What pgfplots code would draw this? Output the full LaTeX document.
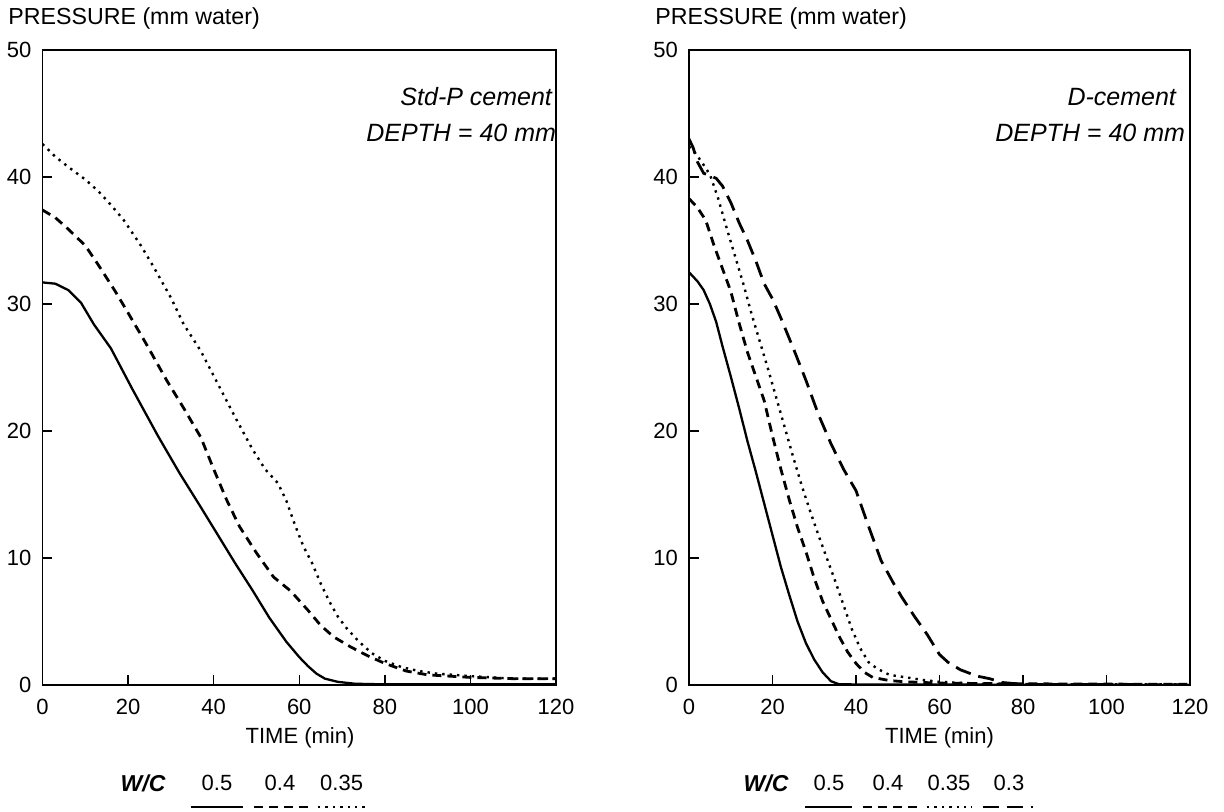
\documentclass[border=0pt]{standalone}
\usepackage{fontspec}
\setmainfont{Liberation Sans}
\usepackage{pgfplots}
\pgfplotsset{compat=1.18}

\tikzset{
  sA/.style={black, line width=1.15pt},
  sB/.style={black, line width=1.4pt, dash pattern=on 4.5pt off 3pt},
  sC/.style={black, line width=1.2pt, dash pattern=on 1.2pt off 2.5pt},
  sD/.style={black, line width=1.4pt, dash pattern=on 8pt off 4pt},
}
\pgfplotsset{
  base/.style={
    scale only axis, height=317.5pt,
    xmin=0, xmax=120, ymin=0, ymax=50,
    xtick={0,20,...,120}, ytick={0,10,...,50},
    tick align=inside, xtick pos=bottom, ytick pos=left,
    major tick length=5pt,
    axis line style={line width=0.9pt},
    every tick/.style={line width=0.7pt, black},
    tick label style={font=\fontsize{11}{13}\selectfont},
    xticklabel style={yshift=-3.5pt},
    yticklabel style={xshift=-2pt},
    /pgf/number format/assume math mode=true,
  },
}

\begin{document}
\begin{tikzpicture}[font=\fontsize{11}{13}\selectfont]

\begin{axis}[base, width=256.75pt, at={(21.25pt,63pt)}, anchor=south west]
\addplot[sA] coordinates {(0,31.7) (3,31.6) (6,31.1) (9,30.1) (12,28.4) (16,26.5) (21,23.3) (27,19.6) (32,16.7) (37,14.0) (41,11.8) (45,9.6) (49,7.5) (53,5.3) (57,3.4) (60,2.2) (62,1.5) (64,0.9) (66,0.5) (69,0.25) (73,0.1) (80,0.05) (90,0.05) (100,0.05) (120,0.05)};
\addplot[sB] coordinates {(0,37.4) (3,36.8) (6,35.9) (10,34.6) (13,33.1) (17,31.0) (20,29.3) (24,27.0) (29,24.0) (33,21.8) (37,19.5) (40,17.0) (43,14.6) (46,12.5) (50,10.4) (54,8.5) (58,7.4) (62,5.9) (65,4.7) (68,3.8) (72,3.0) (76,2.3) (80,1.7) (85,1.1) (90,0.8) (100,0.6) (110,0.5) (120,0.5)};
\addplot[sC] coordinates {(0,42.6) (3,41.6) (6,40.8) (10,39.8) (13,38.9) (16,37.8) (19,36.6) (23,34.6) (26,32.9) (30,30.5) (33,28.4) (37,26.3) (41,23.7) (45,21.1) (49,18.6) (52,17.0) (55,15.9) (57,14.5) (59,12.6) (61,10.9) (63,9.6) (65,8.0) (67,6.6) (69,5.4) (71,4.5) (74,3.4) (77,2.5) (80,1.9) (84,1.4) (88,1.1) (92,0.9) (100,0.7) (110,0.5) (120,0.5)};
\end{axis}

\begin{axis}[base, width=250.5pt, at={(344.5pt,63pt)}, anchor=south west]
\addplot[sA] coordinates {(0,32.5) (2,31.8) (3.5,31.1) (5,30.0) (6.5,28.6) (8,26.7) (10,24.3) (12,21.8) (14,19.2) (16,16.8) (18,14.3) (20,11.8) (22,9.3) (24,7.1) (26,5.0) (28,3.3) (30,2.0) (32,1.0) (34,0.3) (36,0.05) (120,0.0)};
\addplot[sB] coordinates {(0,38.3) (2,37.6) (4,36.6) (6,34.6) (8,32.8) (10,31.0) (12,28.5) (14,26.2) (16,24.3) (18,22.4) (20,19.6) (22,17.0) (24,14.6) (26,12.4) (28,10.5) (30,8.4) (32,6.6) (34,5.2) (36,3.8) (38,2.6) (40,1.7) (42,1.0) (44,0.6) (48,0.35) (52,0.25) (60,0.15) (75,0.1) (120,0.05)};
\addplot[sC] coordinates {(0,42.4) (1,42.1) (3,41.2) (5,40.2) (7,38.3) (9,36.0) (11,33.8) (13,31.6) (15,29.2) (17,27.0) (19,24.8) (21,22.5) (23,20.2) (25,17.9) (27,15.7) (29,13.7) (31,11.8) (33,10.0) (35,8.2) (37,6.3) (39,4.4) (41,2.9) (43,1.8) (45,1.3) (48,0.8) (52,0.6) (56,0.4) (60,0.25) (70,0.1) (80,0.05) (120,0.05)};
\addplot[sD] coordinates {(0,43.0) (1,42.3) (2,41.2) (3.5,40.3) (5,40.1) (6.5,39.9) (8,39.3) (10,38.0) (12,36.4) (14,35.0) (16,33.4) (18,31.6) (20,30.4) (22,28.9) (25,26.5) (28,24.0) (31,21.3) (34,19.0) (37,17.0) (40,15.3) (43,12.5) (46,9.8) (49,8.0) (51,6.9) (54,5.4) (57,4.0) (60,2.4) (62,1.8) (65,1.2) (69,0.7) (72,0.5) (75,0.2) (80,0.05) (120,0.02)};
\end{axis}

% axis titles
\node[anchor=west, font=\fontsize{11.6}{13}\selectfont] at (0.7pt,396.5pt) {PRESSURE (mm water)};
\node[anchor=west, font=\fontsize{11.6}{13}\selectfont] at (324.2pt,396.5pt) {PRESSURE (mm water)};
\node at (150pt,36.5pt) {TIME (min)};
\node at (469.75pt,36.5pt) {TIME (min)};

% annotations
\node[anchor=east, font=\fontsize{12.5}{14}\selectfont\itshape] at (279.5pt,357pt) {Std-P cement};
\node[anchor=east, font=\fontsize{12.5}{14}\selectfont\itshape] at (281.5pt,339pt) {DEPTH = 40 mm};
\node[anchor=east, font=\fontsize{12.5}{14}\selectfont\itshape] at (591.5pt,357pt) {D-cement};
\node[anchor=east, font=\fontsize{12.5}{14}\selectfont\itshape] at (596pt,339pt) {DEPTH = 40 mm};

% legend (left)
\node[font=\fontsize{11.5}{13}\selectfont\bfseries\itshape] at (71.5pt,14pt) {W/C};
\node at (108.5pt,14pt) {0.5};
\node at (140pt,14pt) {0.4};
\node at (170.8pt,14pt) {0.35};
\draw[sA] (95.5pt,2pt) -- (121.5pt,2pt);
\draw[sB] (127pt,2pt) -- (157pt,2pt);
\draw[sC] (159pt,2pt) -- (182.5pt,2pt);

% legend (right)
\node[font=\fontsize{11.5}{13}\selectfont\bfseries\itshape] at (383pt,14pt) {W/C};
\node at (414.5pt,14pt) {0.5};
\node at (444pt,14pt) {0.4};
\node at (474.5pt,14pt) {0.35};
\node at (504.5pt,14pt) {0.3};
\draw[sA] (402.5pt,2pt) -- (426pt,2pt);
\draw[sB] (431.5pt,2pt) -- (458.5pt,2pt);
\draw[sC] (463.5pt,2pt) -- (486pt,2pt);
\draw[sD] (491.5pt,2pt) -- (516.5pt,2pt);

\pgfresetboundingbox
\path[use as bounding box] (0,0) rectangle (612pt,405.5pt);
\end{tikzpicture}
\end{document}
